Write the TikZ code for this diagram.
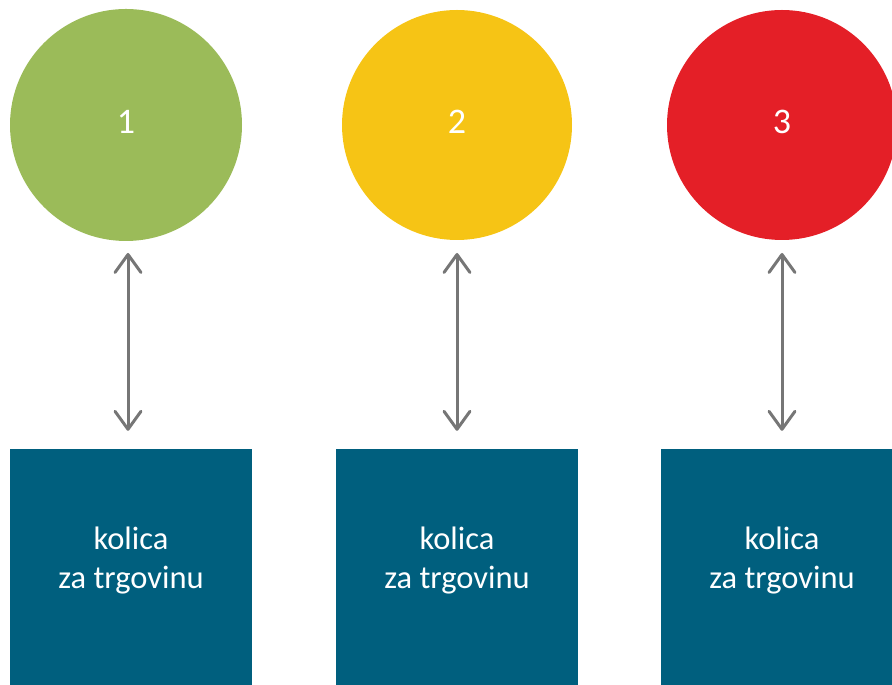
\documentclass[tikz,border=0pt]{standalone}
\usepackage{fontspec}
\setmainfont{Carlito}
\usetikzlibrary{arrows.meta}
\definecolor{cgreen}{HTML}{9BBB59}
\definecolor{cyellow}{HTML}{F6C415}
\definecolor{cred}{HTML}{E41F27}
\definecolor{cbox}{HTML}{005F7E}
\definecolor{carrow}{HTML}{767676}
\newcommand{\cartlabel}{\raisebox{0pt}[0pt][0pt]{\begin{tabular}{@{}c@{}}kolica\\za trgovinu\end{tabular}}}
\newcommand{\numlabel}[1]{\raisebox{6pt}{#1}}
\tikzset{
  circ/.style={circle, inner sep=0pt, minimum size=#1, text=white, font=\fontsize{36}{40}\selectfont},
  cartbox/.style={rectangle, inner sep=0pt, fill=cbox, minimum width=242pt, minimum height=236pt, text=white, font=\fontsize{32.5}{39}\selectfont},
  barb/.tip={Straight Barb[length=18pt, width=26pt, line cap=round, line join=round]},
  arr/.style={draw=carrow, line width=3pt, {barb}-{barb}, shorten >=18pt}
}
\begin{document}
\begin{tikzpicture}[x=1pt,y=1pt]
\useasboundingbox (0,0) rectangle (892,685);
\clip (0,0) rectangle (892,685);
\node[circ=232pt, fill=cgreen] (c1) at (126,560) {\numlabel{1}};
\node[circ=230pt, fill=cyellow] (c2) at (457,560) {\numlabel{2}};
\node[circ=230pt, fill=cred] (c3) at (782,560) {\numlabel{3}};
\node[cartbox] (b1) at (131,118) {\cartlabel};
\node[cartbox] (b2) at (457,118) {\cartlabel};
\node[cartbox] (b3) at (782,118) {\cartlabel};
\coordinate (t1) at (128,432);
\coordinate (t2) at (457,432);
\coordinate (t3) at (782,432);
\draw[arr] (t1) -- (t1 |- b1.north);
\draw[arr] (t2) -- (t2 |- b2.north);
\draw[arr] (t3) -- (t3 |- b3.north);
\end{tikzpicture}
\end{document}
